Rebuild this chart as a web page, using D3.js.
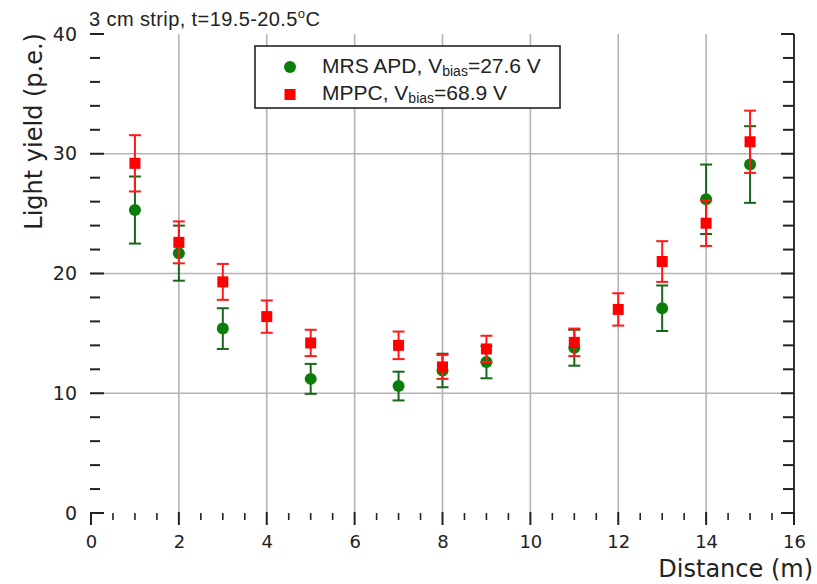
<!DOCTYPE html>
<html><head><meta charset="utf-8">
<script src="https://cdn.jsdelivr.net/npm/d3@7"></script>
<style>body{margin:0;background:#fff}svg{display:block}</style>
</head><body>
<svg id="c" width="817" height="584"></svg>
<script>
const distance = [1,2,3,5,7,8,9,11,13,14,15];
const apdValue = [25.3,21.7,15.4,11.2,10.6,11.9,12.6,13.8,17.1,26.2,29.1];
const apdError = [2.8,2.3,1.7,1.25,1.2,1.4,1.35,1.5,1.9,2.9,3.2];
const mppcDistance = [1,2,3,4,5,7,8,9,11,12,13,14,15];
const mppcValue = [29.2,22.6,19.3,16.4,14.2,14.0,12.2,13.7,14.25,17.0,21.0,24.2,31.0];
const mppcError = [2.35,1.75,1.5,1.35,1.1,1.15,1.0,1.1,1.15,1.35,1.7,1.9,2.6];
const xTicks = [0,2,4,6,8,10,12,14,16];
const yTicks = [0,10,20,30,40];

const svg = d3.select('#c');
const L=91,R=794,T=34,B=513;
const x = d3.scaleLinear().domain([0,16]).range([L,R]);
const y = d3.scaleLinear().domain([0,40]).range([B,T]);

svg.append('g').selectAll('line').data(xTicks.filter(d=>d>0&&d<16)).join('line')
  .attr('x1',d=>x(d)).attr('x2',d=>x(d)).attr('y1',T).attr('y2',B)
  .attr('stroke','#b4b4b8').attr('stroke-width',1.6);
svg.append('g').selectAll('line').data(yTicks.filter(d=>d>0&&d<40)).join('line')
  .attr('x1',L).attr('x2',R).attr('y1',d=>y(d)).attr('y2',d=>y(d))
  .attr('stroke','#b4b4b8').attr('stroke-width',1.6);

svg.append('line').attr('x1',R).attr('x2',R).attr('y1',T).attr('y2',B)
  .attr('stroke','#333').attr('stroke-width',2);

const tickCol='#222';
d3.range(0,40.01,2).forEach(v=>{
  const major = v%10===0;
  svg.append('line').attr('x1',L-1).attr('x2',L+(major?13:9)).attr('y1',y(v)).attr('y2',y(v))
    .attr('stroke',tickCol).attr('stroke-width',2);
  svg.append('line').attr('x1',R).attr('x2',R-(major?13:11)).attr('y1',y(v)).attr('y2',y(v))
    .attr('stroke',tickCol).attr('stroke-width',2);
});
d3.range(0,16.01,0.5).forEach(v=>{
  const major = v%2===0;
  svg.append('line').attr('x1',x(v)).attr('x2',x(v)).attr('y1',major?512:513).attr('y2',major?525:520)
    .attr('stroke',tickCol).attr('stroke-width',major?2:1.6);
});

const xAxis = svg.append('g').attr('transform',`translate(0,${B})`)
  .call(d3.axisBottom(x).tickValues(xTicks).tickSize(0).tickPadding(22).tickFormat(d3.format('d')));
xAxis.select('.domain').remove();
xAxis.selectAll('text').attr('font-family','DejaVu Sans').attr('font-size',18).attr('fill','#222');
const yAxis = svg.append('g').attr('transform',`translate(${L},0)`)
  .call(d3.axisLeft(y).tickValues(yTicks).tickSize(0).tickPadding(14).tickFormat(d3.format('d')));
yAxis.select('.domain').remove();
yAxis.selectAll('text').attr('font-family','DejaVu Sans').attr('font-size',19).attr('fill','#222');

svg.append('text').attr('x',813).attr('y',577).attr('text-anchor','end')
  .attr('font-family','DejaVu Sans').attr('font-size',24).attr('fill','#222').text('Distance (m)');
svg.append('text').attr('transform',`translate(42,${T-1}) rotate(-90)`).attr('text-anchor','end')
  .attr('font-family','DejaVu Sans').attr('font-size',24).attr('fill','#222').text('Light yield (p.e.)');

const title = svg.append('text').attr('x',89).attr('y',26)
  .attr('font-family','Liberation Sans').attr('font-size',20).attr('letter-spacing',0.4).attr('fill','#222');
title.append('tspan').text('3 cm strip, t=19.5-20.5');
title.append('tspan').attr('font-size',13).attr('dy',-8).text('o');
title.append('tspan').attr('dy',8).text('C');

function errBars(xs, vs, es, col){
  const g = svg.append('g').attr('stroke',col).attr('stroke-width',2).attr('fill','none');
  xs.forEach((d,i)=>{
    const cx=x(d), y1=y(vs[i]+es[i]), y0=y(vs[i]-es[i]);
    g.append('line').attr('x1',cx).attr('x2',cx).attr('y1',y1).attr('y2',y0);
    g.append('line').attr('x1',cx-6).attr('x2',cx+6).attr('y1',y1).attr('y2',y1);
    g.append('line').attr('x1',cx-6).attr('x2',cx+6).attr('y1',y0).attr('y2',y0);
  });
}
errBars(distance, apdValue, apdError, '#17661a');
svg.append('g').selectAll('circle').data(distance).join('circle')
  .attr('cx',d=>x(d)).attr('cy',(d,i)=>y(apdValue[i])).attr('r',6).attr('fill','#0a7d0a');
errBars(mppcDistance, mppcValue, mppcError, '#ff1a1a');
svg.append('g').selectAll('rect').data(mppcDistance).join('rect')
  .attr('x',d=>x(d)-5.5).attr('y',(d,i)=>y(mppcValue[i])-5.5).attr('width',11).attr('height',11).attr('fill','#ff0000');

svg.append('rect').attr('x',255).attr('y',46).attr('width',305).attr('height',62)
  .attr('fill','#fff').attr('stroke','#222').attr('stroke-width',1.6);
svg.append('circle').attr('cx',290).attr('cy',67).attr('r',6).attr('fill','#0a7d0a');
svg.append('rect').attr('x',284.5).attr('y',89).attr('width',11).attr('height',11).attr('fill','#ff0000');
function legText(yy, name, val){
  const t = svg.append('text').attr('x',322).attr('y',yy)
    .attr('font-family','Liberation Sans').attr('font-size',21).attr('fill','#222');
  t.append('tspan').text(name+', V');
  t.append('tspan').attr('font-size',14).attr('dy',3).text('bias');
  t.append('tspan').attr('dy',-3).text('='+val+' V');
}
legText(73,'MRS APD','27.6');
legText(100,'MPPC','68.9');
</script>
</body></html>
